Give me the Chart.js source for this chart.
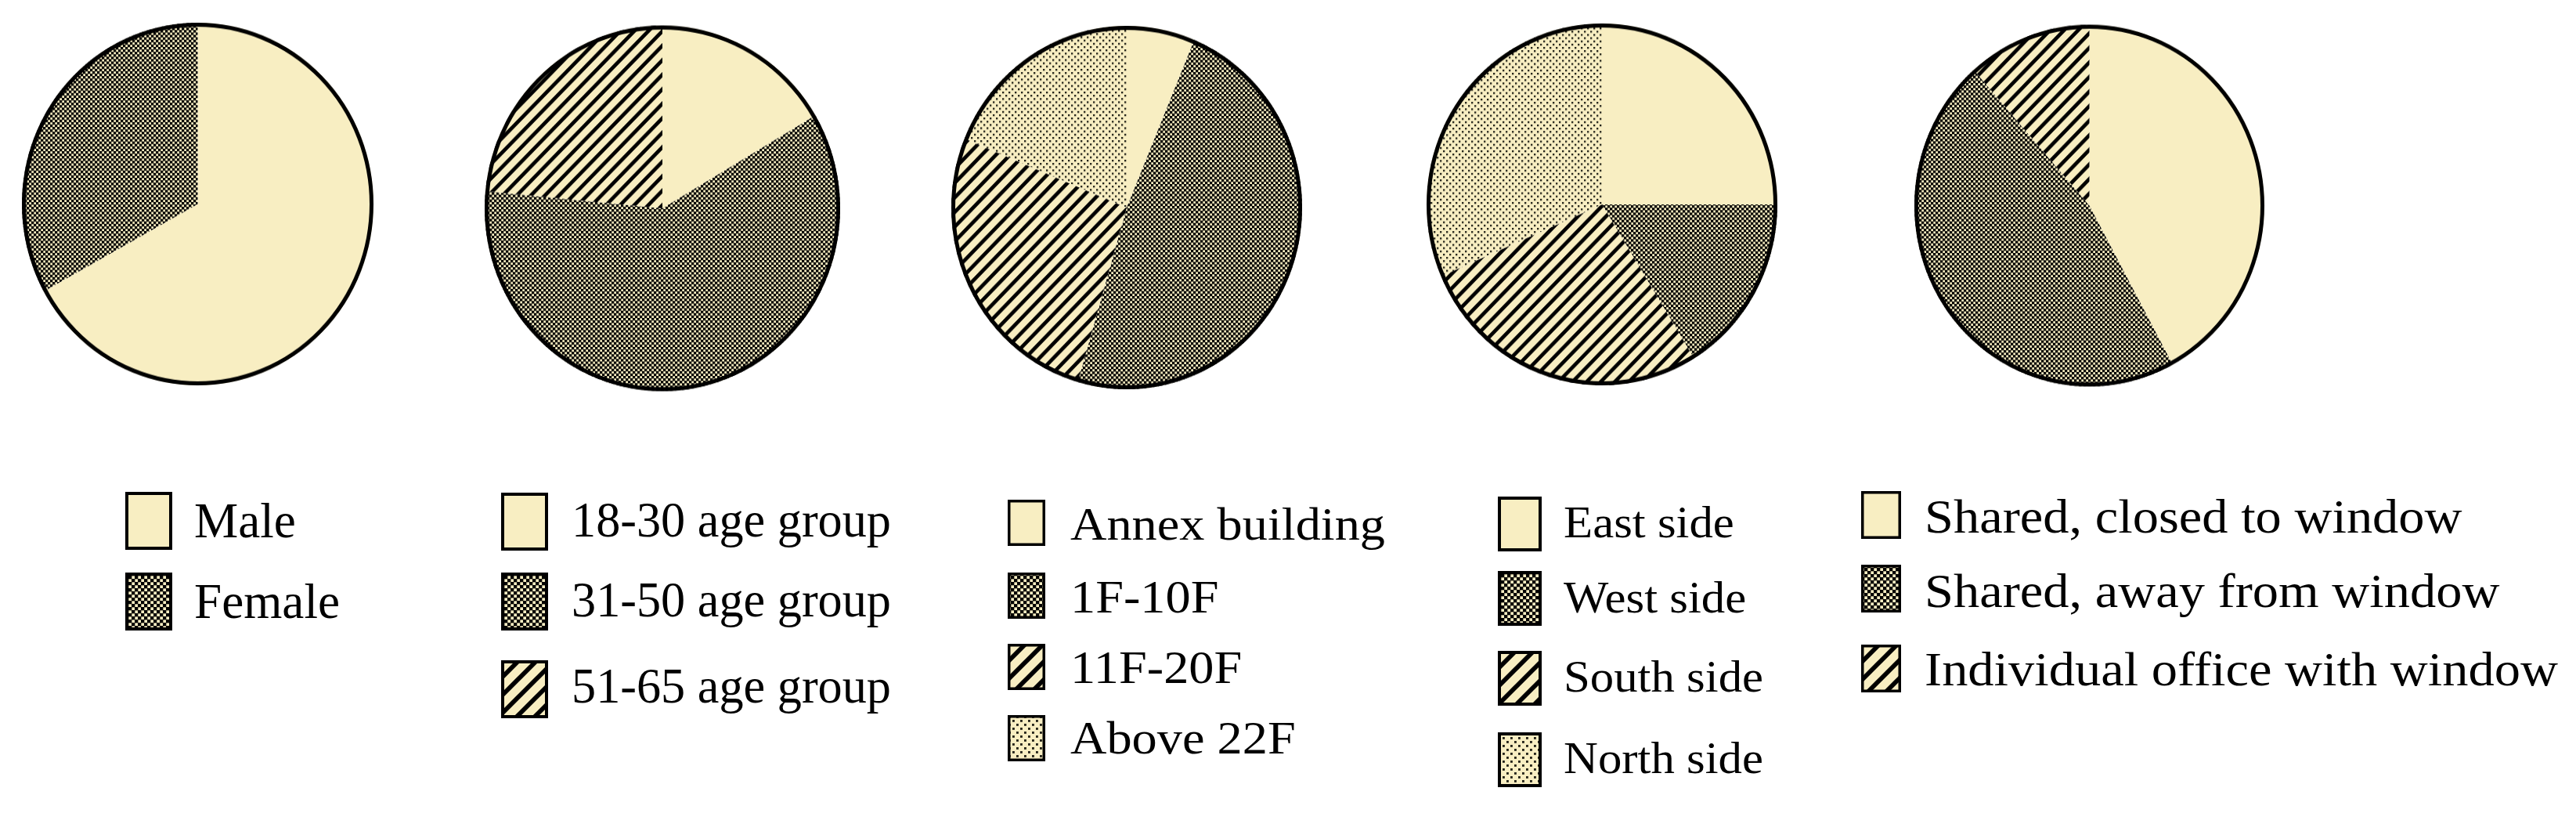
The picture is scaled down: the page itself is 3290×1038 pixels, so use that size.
<!DOCTYPE html>
<html>
<head>
<meta charset="utf-8">
<script src="https://cdn.jsdelivr.net/npm/chart.js@4"></script>
<style>
  html, body { margin:0; padding:0; background:#ffffff; }
  body { width:3290px; height:1038px; position:relative; overflow:hidden; }
  .pie { position:absolute; }
  .pie canvas { display:block; }
  .lbox { position:absolute; display:block; }
  .ltext { position:absolute; white-space:nowrap; line-height:1; color:#000;
           font-family:"Liberation Serif","DejaVu Serif",serif; transform-origin:0 0; }
</style>
</head>
<body>
<script>
// ---------------- DATA ----------------
const genderLabels = ['Male', 'Female'];
const genderValues = [67, 33];

const ageLabels = ['18-30 age group', '31-50 age group', '51-65 age group'];
const ageValues = [16.5, 60, 23.5];

const floorLabels = ['Annex building', '1F-10F', '11F-20F', 'Above 22F'];
const floorValues = [6.3, 48.2, 26.7, 18.8];

const orientationLabels = ['East side', 'West side', 'South side', 'North side'];
const orientationValues = [25, 16.2, 27.3, 31.5];

const officeLabels = ['Shared, closed to window', 'Shared, away from window', 'Individual office with window'];
const officeValues = [42.1, 46.4, 11.5];

// fill style per slice (by order)
const genderFills = ['solid', 'checker'];
const ageFills = ['solid', 'checker', 'stripe'];
const floorFills = ['solid', 'checker', 'stripe', 'dots'];
const orientationFills = ['solid', 'checker', 'stripe', 'dots'];
const officeFills = ['solid', 'checker', 'stripe'];

// ---------------- STYLE / LAYOUT ----------------
const CREAM = '#F8EEC2';
const INK = '#000000';
const FONT_FAMILY = '"Liberation Serif","DejaVu Serif",serif';

function makeTile(kind, scale) {
  const c = document.createElement('canvas');
  const x = c.getContext('2d');
  if (kind === 'checker') {
    const s = Math.round(6 * scale); c.width = c.height = s;
    const h = s / 2, q = s * 0.54;
    x.fillStyle = CREAM; x.fillRect(0, 0, s, s);
    x.fillStyle = INK;
    x.fillRect(0, 0, q, q);
    x.fillRect(h, h, q, q);
    x.fillRect(h - s, h, q, q); x.fillRect(h, h - s, q, q);
  } else if (kind === 'stripe') {
    const s = Math.round(18 * scale); c.width = c.height = s;
    x.fillStyle = CREAM; x.fillRect(0, 0, s, s);
    x.strokeStyle = INK; x.lineWidth = 4.6 * scale; x.lineCap = 'square';
    x.beginPath();
    x.moveTo(-s, 2 * s); x.lineTo(2 * s, -s);
    x.moveTo(-s, s); x.lineTo(s, -s);
    x.moveTo(0, 2 * s); x.lineTo(2 * s, 0);
    x.stroke();
  } else if (kind === 'dots') {
    const s = Math.round(8 * scale); c.width = c.height = s;
    const d = 2.3 * scale;
    x.fillStyle = CREAM; x.fillRect(0, 0, s, s);
    x.fillStyle = '#24241a';
    x.fillRect(1, 1, d, d); x.fillRect(1 + s / 2, 1 + s / 2, d, d);
  } else {
    c.width = c.height = 4;
    x.fillStyle = CREAM; x.fillRect(0, 0, 4, 4);
  }
  return c;
}
function fillFor(ctx, kind, scale) {
  if (kind === 'solid') return CREAM;
  return ctx.createPattern(makeTile(kind, scale), 'repeat');
}

// cap: target cap height in px; fitW: target width of the 'fit' label
const panels = [
  { labels: genderLabels, values: genderValues, fills: genderFills,
    cx: 252.5, cy: 260.5, rx: 224.5, ry: 231.5,
    legend: { boxX: 160, boxW: 60, boxH: 74, boxTops: [628, 731], border: 4,
              textX: 248, baselines: [687, 790], cap: 41, fit: 'Female', fitW: 186 } },
  { labels: ageLabels, values: ageValues, fills: ageFills,
    cx: 845.5, cy: 266, rx: 227, ry: 233.5,
    legend: { boxX: 640, boxW: 60, boxH: 74, boxTops: [629, 731, 843], border: 4,
              textX: 730, baselines: [686, 788, 898], cap: 41, fit: '18-30 age group', fitW: 408 } },
  { labels: floorLabels, values: floorValues, fills: floorFills,
    cx: 1439, cy: 265, rx: 224, ry: 232,
    legend: { boxX: 1287, boxW: 48, boxH: 59, boxTops: [638, 731, 822, 913], border: 3.5,
              textX: 1367, baselines: [690, 783, 873, 963], cap: 38, fit: 'Annex building', fitW: 402 } },
  { labels: orientationLabels, values: orientationValues, fills: orientationFills,
    cx: 2046, cy: 261, rx: 224, ry: 231,
    legend: { boxX: 1913, boxW: 56, boxH: 70, boxTops: [634, 729, 831, 935], border: 4,
              textX: 1997, baselines: [687, 783, 884, 988], cap: 37, fit: 'North side', fitW: 255 } },
  { labels: officeLabels, values: officeValues, fills: officeFills,
    cx: 2668.5, cy: 262, rx: 223.5, ry: 231,
    legend: { boxX: 2377, boxW: 51, boxH: 61, boxTops: [627, 721, 823], border: 3.5,
              textX: 2458, baselines: [680, 775, 875], cap: 40, fit: 'Individual office with window', fitW: 809 } }
];

const outlinePlugin = {
  id: 'outline',
  afterDatasetsDraw(chart, args, opts) {
    const arc = chart.getDatasetMeta(0).data[0];
    if (!arc) return;
    const p = arc.getProps(['x', 'y', 'outerRadius'], true);
    const ctx = chart.ctx;
    ctx.save();
    ctx.beginPath();
    ctx.arc(p.x, p.y, p.outerRadius - opts.width / 2, 0, Math.PI * 2);
    ctx.lineWidth = opts.width;
    ctx.strokeStyle = opts.color;
    ctx.stroke();
    ctx.restore();
  }
};

function fontMetrics() {
  const c = document.createElement('canvas').getContext('2d');
  c.font = '100px ' + FONT_FAMILY;
  const m = c.measureText('H');
  const cap = (m.actualBoundingBoxAscent || 66.2) / 100;
  const fa = (m.fontBoundingBoxAscent || 89.1) / 100;
  const fd = (m.fontBoundingBoxDescent || 21.6) / 100;
  return { cap, fa, fd };
}

const textEls = [];

panels.forEach((p) => {
  const wrap = document.createElement('div');
  wrap.className = 'pie';
  const size = 2 * p.rx;
  wrap.style.left = (p.cx - p.rx) + 'px';
  wrap.style.top = (p.cy - p.rx) + 'px';
  wrap.style.width = size + 'px';
  wrap.style.height = size + 'px';
  wrap.style.transform = 'scaleY(' + (p.ry / p.rx) + ')';
  wrap.style.transformOrigin = '50% 50%';
  const cv = document.createElement('canvas');
  wrap.appendChild(cv);
  document.body.appendChild(wrap);
  const ctx = cv.getContext('2d');

  const chart = new Chart(ctx, {
    type: 'pie',
    data: {
      labels: p.labels,
      datasets: [{
        data: p.values,
        backgroundColor: p.fills.map(f => fillFor(ctx, f, 1)),
        borderWidth: 0,
        hoverOffset: 0,
        offset: 0
      }]
    },
    options: {
      responsive: true,
      maintainAspectRatio: false,
      animation: false,
      events: [],
      layout: { padding: 0 },
      plugins: {
        legend: { display: false },
        tooltip: { enabled: false },
        title: { display: false },
        outline: { width: 5, color: INK }
      }
    },
    plugins: [outlinePlugin]
  });

  // HTML legend built from the chart's own labels
  const L = p.legend;
  chart.data.labels.forEach((lab, k) => {
    const box = document.createElement('canvas');
    box.className = 'lbox';
    box.width = L.boxW; box.height = L.boxH;
    box.style.left = L.boxX + 'px';
    box.style.top = L.boxTops[k] + 'px';
    const bx = box.getContext('2d');
    bx.fillStyle = fillFor(bx, p.fills[k], 1.25);
    bx.fillRect(0, 0, L.boxW, L.boxH);
    bx.strokeStyle = INK; bx.lineWidth = L.border;
    bx.strokeRect(L.border / 2, L.border / 2, L.boxW - L.border, L.boxH - L.border);
    document.body.appendChild(box);

    const t = document.createElement('div');
    t.className = 'ltext';
    t.textContent = lab;
    t.style.left = L.textX + 'px';
    document.body.appendChild(t);
    textEls.push({ el: t, panel: p, label: lab, k });
  });
});

function fitTexts() {
  const fm = fontMetrics();
  panels.forEach(p => {
    const L = p.legend;
    const fs = L.cap / fm.cap;
    const baseOff = ((1 - (fm.fa + fm.fd)) / 2 + fm.fa) * fs;
    const items = textEls.filter(o => o.panel === p);
    items.forEach(o => {
      o.el.style.fontSize = fs + 'px';
      o.el.style.top = (L.baselines[o.k] - baseOff) + 'px';
      o.el.style.transform = 'none';
    });
    const ref = items.find(o => o.label === L.fit);
    const w = ref.el.getBoundingClientRect().width;
    const sx = w > 0 ? L.fitW / w : 1;
    items.forEach(o => { o.el.style.transform = 'scaleX(' + sx + ')'; });
  });
}
fitTexts();
if (document.fonts && document.fonts.ready) document.fonts.ready.then(fitTexts);
</script>
</body>
</html>
